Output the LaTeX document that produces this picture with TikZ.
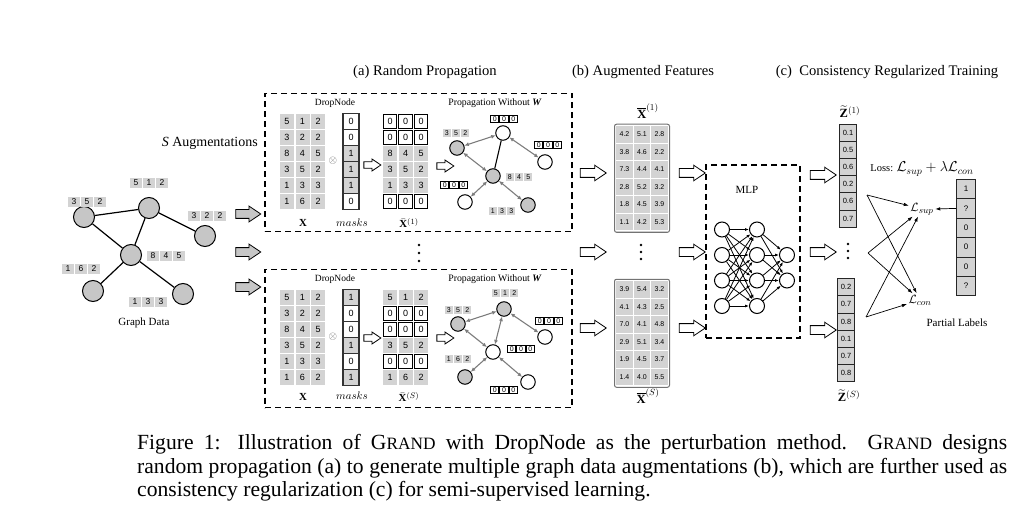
\documentclass[tikz,border=0pt]{standalone}
\usepackage{amsmath}
\usepackage{fontspec}
\setmainfont{Liberation Serif}
\setsansfont{Liberation Sans}
\usetikzlibrary{shapes.arrows,arrows.meta}
\definecolor{cellgray}{RGB}{211,211,211}
\definecolor{nodegray}{RGB}{198,198,198}
\definecolor{edgegray}{RGB}{125,125,125}
\newcommand{\xrow}[6]{\foreach \cv [count=\ck] in {#6}{\node[#1] (#2-\ck) at ({#3+#5*(\ck-1)},#4) {\cv};}}
\newcommand{\grandsc}{G{\fontsize{17.3}{20}\selectfont RAND}}
\begin{document}
\begin{tikzpicture}[x=1pt,y=-1pt,
 tit/.style={font=\fontsize{14.6}{16}\selectfont, inner sep=0},
 lbl14/.style={font=\fontsize{14}{16}\selectfont, inner sep=0},
 lbl11/.style={font=\fontsize{11}{12}\selectfont, inner sep=0},
 lbl10/.style={font=\fontsize{9.8}{11}\selectfont, inner sep=0},
 lbl9/.style={font=\fontsize{9.5}{10}\selectfont, inner sep=0},
 mlbl/.style={font=\fontsize{10.8}{12}\selectfont, inner sep=0},
 mlbl12/.style={font=\fontsize{12.5}{14}\selectfont, inner sep=0},
 capt/.style={font=\fontsize{21.6}{24}\selectfont, inner sep=0, anchor=base west},
 gnode/.style={circle, draw=black, line width=1, fill=nodegray, minimum size=21, inner sep=0},
 gedge/.style={line width=1.2},
 dcell/.style={fill=cellgray, minimum width=12, minimum height=10, inner sep=0, font=\sffamily\fontsize{8.5}{9}\selectfont},
 gcell/.style={fill=cellgray, minimum width=14, minimum height=14.5, inner sep=0, font=\sffamily\fontsize{9}{9}\selectfont},
 zcell/.style={draw=black, fill=white, line width=1, minimum width=13.5, minimum height=13.5, inner sep=0, font=\sffamily\fontsize{9}{9}\selectfont},
 mcell/.style={draw=black!80, line width=1.3, fill=white, minimum width=16, minimum height=16, inner sep=0, font=\sffamily\fontsize{9}{9}\selectfont},
 mcellg/.style={mcell, fill=cellgray},
 pgc/.style={fill=cellgray, minimum width=8.3, minimum height=7.5, inner sep=0, font=\sffamily\fontsize{7}{7}\selectfont},
 pzc/.style={draw=black, fill=white, line width=0.8, minimum width=8.3, minimum height=7.5, inner sep=0, font=\sffamily\fontsize{7}{7}\selectfont},
 pnw/.style={circle, draw=black, line width=1, fill=white, minimum size=14.5, inner sep=0},
 png/.style={pnw, fill=nodegray},
 pedge/.style={draw=edgegray, line width=1.1, {Latex[length=4.5,width=4]}-{Latex[length=4.5,width=4]}},
 sedge/.style={draw=black, line width=1.1},
 dbox/.style={draw=black, line width=1.3, dash pattern=on 6pt off 4pt, inner sep=0},
 harrow/.style={single arrow, draw=black, fill=white, line width=0.8, minimum height=26, minimum width=0, inner xsep=0, inner ysep=4, single arrow head extend=3.4, single arrow tip angle=68},
 sarrow/.style={harrow, minimum height=17, inner ysep=2.8, single arrow head extend=2.8},
 garrow/.style={harrow, fill=nodegray, minimum height=25, inner ysep=4, single arrow head extend=3.6},
 fcell/.style={fill=cellgray, minimum width=16.5, minimum height=16.5, inner sep=0, font=\sffamily\fontsize{7}{7}\selectfont},
 fbox/.style={draw=black!55, line width=1, rounded corners=2, inner sep=0, fill=white},
 neuron/.style={circle, draw=black, line width=1, fill=white, minimum size=15, inner sep=0},
 narrow/.style={line width=0.8, -{Latex[length=4,width=3]}},
 zcol/.style={draw=black!85, line width=0.8, fill=cellgray, minimum width=17, minimum height=17.1, inner sep=0, font=\sffamily\fontsize{7.5}{8}\selectfont},
 lcol/.style={zcol, minimum width=19, minimum height=19.4, font=\sffamily\fontsize{8}{8}\selectfont},
 tarrow/.style={line width=0.7, -{Latex[length=5,width=3.5]}},
 vdot/.style={circle, fill=black, inner sep=0, minimum size=2.8},
]
\useasboundingbox (0,0) rectangle (1029,508);

% titles
\node[tit] (ta) at (425,72) {(a) Random Propagation};
\node[tit] (tb) at (643,72) {(b) Augmented Features};
\node[tit] (tc) at (887,72) {(c)\ \ Consistency Regularized Training};

% graph data
\node[gnode] (g1) at (84,217) {};
\node[gnode] (g2) at (149,208) {};
\node[gnode] (g3) at (205,236) {};
\node[gnode] (g4) at (131,255) {};
\node[gnode] (g5) at (93,291) {};
\node[gnode] (g6) at (183,294) {};
\draw[gedge] (g1) -- (g2);
\draw[gedge] (g1) -- (g4);
\draw[gedge] (g2) -- (g4);
\draw[gedge] (g2) -- (g3);
\draw[gedge] (g4) -- (g5);
\draw[gedge] (g4) -- (g6);
\xrow{dcell}{d1}{136}{183}{13}{5,1,2}
\xrow{dcell}{d2}{74}{202}{13}{3,5,2}
\xrow{dcell}{d3}{194}{216}{13}{3,2,2}
\xrow{dcell}{d4}{153}{256}{13}{8,4,5}
\xrow{dcell}{d5}{68}{269}{13}{1,6,2}
\xrow{dcell}{d6}{135}{302}{13}{1,3,3}
\node[lbl11] (gd) at (144,323) {Graph Data};
\node[lbl14, anchor=east] (saug) at (258,143) {\textit{S} Augmentations};
\node[garrow, shape border rotate=25] (ga1) at (245,214) {};
\node[garrow] (ga2) at (245,252) {};
\node[garrow, shape border rotate=-27] (ga3) at (245,287) {};

% (a) top box
\node[dbox, minimum width=307, minimum height=138] (boxa) at (418.5,162.5) {};
\node[lbl9] (tdn) at (335,103) {DropNode};
\node[lbl10] (tpw) at (495,103) {Propagation Without \textbf{\textit{W}}};
\xrow{gcell}{tx1}{287}{121.5}{15.5}{5,1,2}
\xrow{gcell}{tx2}{287}{137.5}{15.5}{3,2,2}
\xrow{gcell}{tx3}{287}{153.5}{15.5}{8,4,5}
\xrow{gcell}{tx4}{287}{169.5}{15.5}{3,5,2}
\xrow{gcell}{tx5}{287}{185.5}{15.5}{1,3,3}
\xrow{gcell}{tx6}{287}{201.5}{15.5}{1,6,2}
\node[mlbl, text=black!60] (tot) at (333,161) {$\otimes$};
\node[mcell] (tm0) at (351,121.5) {0};
\node[mcell] (tm1) at (351,137.5) {0};
\node[mcellg] (tm2) at (351,153.5) {1};
\node[mcellg] (tm3) at (351,169.5) {1};
\node[mcellg] (tm4) at (351,185.5) {1};
\node[mcell] (tm5) at (351,201.5) {0};
\node[sarrow] (tar1) at (370,165) {};
\xrow{zcell}{tb1}{390}{121.5}{15.5}{0,0,0}
\xrow{zcell}{tb2}{390}{137.5}{15.5}{0,0,0}
\xrow{gcell}{tb3}{390}{153.5}{15.5}{8,4,5}
\xrow{gcell}{tb4}{390}{169.5}{15.5}{3,5,2}
\xrow{gcell}{tb5}{390}{185.5}{15.5}{1,3,3}
\xrow{zcell}{tb6}{390}{201.5}{15.5}{0,0,0}
\node[mlbl] (txl) at (303,223) {$\mathbf{X}$};
\node[mlbl] (tml) at (352,223) {$masks$};
\node[mlbl] (tbl) at (409,223) {$\bar{\mathbf{X}}^{(1)}$};
\node[sarrow] (tar2) at (443,166) {};
\node[pnw] (tp1) at (503,133) {};
\node[png] (tp2) at (457,148) {};
\node[pnw] (tp3) at (545,162) {};
\node[png] (tp4) at (493,176) {};
\node[pnw] (tp5) at (465,202) {};
\node[png] (tp6) at (528,205) {};
\draw[pedge] (tp2) -- (tp1);
\draw[pedge] (tp2) -- (tp4);
\draw[sedge] (tp1) -- (tp4);
\draw[pedge] (tp1) -- (tp3);
\draw[pedge] (tp4) -- (tp5);
\draw[pedge] (tp4) -- (tp6);
\xrow{pzc}{tl1}{494.7}{119}{9.3}{0,0,0}
\xrow{pgc}{tl2}{446.7}{133}{9.3}{3,5,2}
\xrow{pzc}{tl3}{538.7}{145}{9.3}{0,0,0}
\xrow{pgc}{tl4}{509.7}{177}{9.3}{8,4,5}
\xrow{pzc}{tl5}{444.7}{185}{9.3}{0,0,0}
\xrow{pgc}{tl6}{492.7}{211}{9.3}{1,3,3}

% dots between boxes
\node[vdot] (dda) at (419,245) {};
\node[vdot] (ddb) at (419,253) {};
\node[vdot] (ddc) at (419,261) {};

% (a) bottom box
\begin{scope}[shift={(0,176)}]
\node[dbox, minimum width=307, minimum height=138] (boxb) at (418.5,162.5) {};
\node[lbl9] (bdn) at (335,103) {DropNode};
\node[lbl10] (bpw) at (495,103) {Propagation Without \textbf{\textit{W}}};
\xrow{gcell}{bx1}{287}{121.5}{15.5}{5,1,2}
\xrow{gcell}{bx2}{287}{137.5}{15.5}{3,2,2}
\xrow{gcell}{bx3}{287}{153.5}{15.5}{8,4,5}
\xrow{gcell}{bx4}{287}{169.5}{15.5}{3,5,2}
\xrow{gcell}{bx5}{287}{185.5}{15.5}{1,3,3}
\xrow{gcell}{bx6}{287}{201.5}{15.5}{1,6,2}
\node[mlbl, text=black!60] (bot) at (333,161) {$\otimes$};
\node[mcellg] (bm0) at (351,121.5) {1};
\node[mcell] (bm1) at (351,137.5) {0};
\node[mcell] (bm2) at (351,153.5) {0};
\node[mcellg] (bm3) at (351,169.5) {1};
\node[mcell] (bm4) at (351,185.5) {0};
\node[mcellg] (bm5) at (351,201.5) {1};
\node[sarrow] (bar1) at (370,162) {};
\xrow{gcell}{bb1}{390}{121.5}{15.5}{5,1,2}
\xrow{zcell}{bb2}{390}{137.5}{15.5}{0,0,0}
\xrow{zcell}{bb3}{390}{153.5}{15.5}{0,0,0}
\xrow{gcell}{bb4}{390}{169.5}{15.5}{3,5,2}
\xrow{zcell}{bb5}{390}{185.5}{15.5}{0,0,0}
\xrow{gcell}{bb6}{390}{201.5}{15.5}{1,6,2}
\node[mlbl] (bxl) at (303,221) {$\mathbf{X}$};
\node[mlbl] (bml) at (352,220) {$masks$};
\node[mlbl] (bbl) at (409,221) {$\bar{\mathbf{X}}^{(S)}$};
\node[sarrow] (bar2) at (443,162) {};
\node[png] (bp1) at (504,133) {};
\node[png] (bp2) at (458,148) {};
\node[pnw] (bp3) at (545,161) {};
\node[pnw] (bp4) at (493,176) {};
\node[png] (bp5) at (465,201) {};
\node[pnw] (bp6) at (528,206) {};
\draw[pedge] (bp2) -- (bp1);
\draw[pedge] (bp2) -- (bp4);
\draw[pedge] (bp1) -- (bp4);
\draw[pedge] (bp1) -- (bp3);
\draw[pedge] (bp4) -- (bp5);
\draw[pedge] (bp4) -- (bp6);
\xrow{pgc}{bl1}{495.7}{117}{9.3}{5,1,2}
\xrow{pgc}{bl2}{448.7}{134}{9.3}{3,5,2}
\xrow{pzc}{bl3}{539.7}{145}{9.3}{0,0,0}
\xrow{pzc}{bl4}{511.7}{173}{9.3}{0,0,0}
\xrow{pgc}{bl5}{448.7}{183}{9.3}{1,6,2}
\xrow{pzc}{bl6}{494.7}{214}{9.3}{0,0,0}
\end{scope}

% (b) augmented features
\node[harrow] (fa1) at (590,173) {};
\node[harrow] (fa2) at (590,252) {};
\node[harrow] (fa3) at (590,328) {};
\node[mlbl12] (fl1) at (648,111) {$\overline{\mathbf{X}}^{(1)}$};
\node[fbox, minimum width=55, minimum height=108] (fm1) at (642,178.25) {};
\xrow{fcell}{fa-1}{624.5}{134.5}{17.5}{4.2,5.1,2.8}
\xrow{fcell}{fa-2}{624.5}{152}{17.5}{3.8,4.6,2.2}
\xrow{fcell}{fa-3}{624.5}{169.5}{17.5}{7.3,4.4,4.1}
\xrow{fcell}{fa-4}{624.5}{187}{17.5}{2.8,5.2,3.2}
\xrow{fcell}{fa-5}{624.5}{204.5}{17.5}{1.8,4.5,3.9}
\xrow{fcell}{fa-6}{624.5}{222}{17.5}{1.1,4.2,5.3}
\node[vdot] (fda) at (641,245) {};
\node[vdot] (fdb) at (641,252) {};
\node[vdot] (fdc) at (641,259) {};
\node[fbox, minimum width=55, minimum height=108] (fm2) at (642,333.25) {};
\xrow{fcell}{fb-1}{624.5}{289.5}{17.5}{3.9,5.4,3.2}
\xrow{fcell}{fb-2}{624.5}{307}{17.5}{4.1,4.3,2.5}
\xrow{fcell}{fb-3}{624.5}{324.5}{17.5}{7.0,4.1,4.8}
\xrow{fcell}{fb-4}{624.5}{342}{17.5}{2.9,5.1,3.4}
\xrow{fcell}{fb-5}{624.5}{359.5}{17.5}{1.9,4.5,3.7}
\xrow{fcell}{fb-6}{624.5}{377}{17.5}{1.4,4.0,5.5}
\node[mlbl12] (fl2) at (648,396) {$\overline{\mathbf{X}}^{(S)}$};
\node[harrow] (fr1) at (689,173) {};
\node[harrow] (fr2) at (689,252) {};
\node[harrow] (fr3) at (689,328) {};

% MLP
\node[dbox, minimum width=94, minimum height=173] (mlp) at (753,251.5) {};
\node[lbl11] (mlpt) at (747,190) {MLP};
\foreach \y [count=\i] in {229.5,255,280.5,306} {
  \node[neuron] (ma\i) at (722,\y) {};
  \node[neuron] (mb\i) at (757,\y) {};
}
\node[neuron] (mc1) at (787,255) {};
\node[neuron] (mc2) at (787,280.5) {};
\foreach \i in {1,...,4}{
  \foreach \j in {1,...,4}{\draw[narrow] (ma\i) -- (mb\j);}
  \foreach \j in {1,2}{\draw[narrow] (mb\i) -- (mc\j);}
}

% (c) consistency regularized training
\node[harrow] (za1) at (820,175) {};
\node[harrow] (za2) at (820,252) {};
\node[harrow] (za3) at (820,330) {};
\node[mlbl12] (z1l) at (850,112) {$\widetilde{\mathbf{Z}}^{(1)}$};
\foreach \cv [count=\ck from 0] in {0.1,0.5,0.6,0.2,0.6,0.7} {\node[zcol] (z1-\ck) at (848,{133+17.1*\ck}) {\cv};}
\node[vdot] (zda) at (848,244) {};
\node[vdot] (zdb) at (848,251) {};
\node[vdot] (zdc) at (848,258) {};
\foreach \cv [count=\ck from 0] in {0.2,0.7,0.8,0.1,0.7,0.8} {\node[zcol] (z2-\ck) at (846,{287.3+17.1*\ck}) {\cv};}
\node[mlbl12] (z2l) at (849,396) {$\widetilde{\mathbf{Z}}^{(S)}$};
\node[inner sep=0] (loss) at (922,169) {{\fontsize{10.5}{12}\selectfont Loss:} {\fontsize{14}{16}\selectfont$\mathcal{L}_{sup}+\lambda\mathcal{L}_{con}$}};
\foreach \cv [count=\ck from 0] in {1,?,0,0,0,?} {\node[lcol] (pl-\ck) at (966,{189+19.4*\ck}) {\cv};}
\node[inner sep=1.5, font=\fontsize{13}{14}\selectfont] (lsup) at (922,209) {$\mathcal{L}_{sup}$};
\node[inner sep=1.5, font=\fontsize{13}{14}\selectfont] (lcon) at (920,300) {$\mathcal{L}_{con}$};
\node[lbl11] (plab) at (957,323) {Partial Labels};
\coordinate (ca) at (867,195);
\coordinate (cb) at (868,253);
\coordinate (cc) at (866,317);
\draw[tarrow] (ca) -- (lsup);
\draw[tarrow] (ca) -- (lcon);
\draw[tarrow] (cb) -- (lsup);
\draw[tarrow] (cb) -- (lcon);
\draw[tarrow] (cc) -- (lsup);
\draw[tarrow] (cc) -- (lcon);
\draw[tarrow] (pl-1.west) -- (lsup.east);

% caption
\node[capt] (cap1) at (137,449.5) {\makebox[870pt][s]{Figure 1: Illustration of \grandsc{} with DropNode as the perturbation method.\ \ \grandsc{} designs}};
\node[capt] (cap2) at (137,473.3) {\makebox[870pt][s]{random propagation (a) to generate multiple graph data augmentations (b), which are further used as}};
\node[capt] (cap3) at (137,496.8) {consistency regularization (c) for semi-supervised learning.};
\end{tikzpicture}
\end{document}
